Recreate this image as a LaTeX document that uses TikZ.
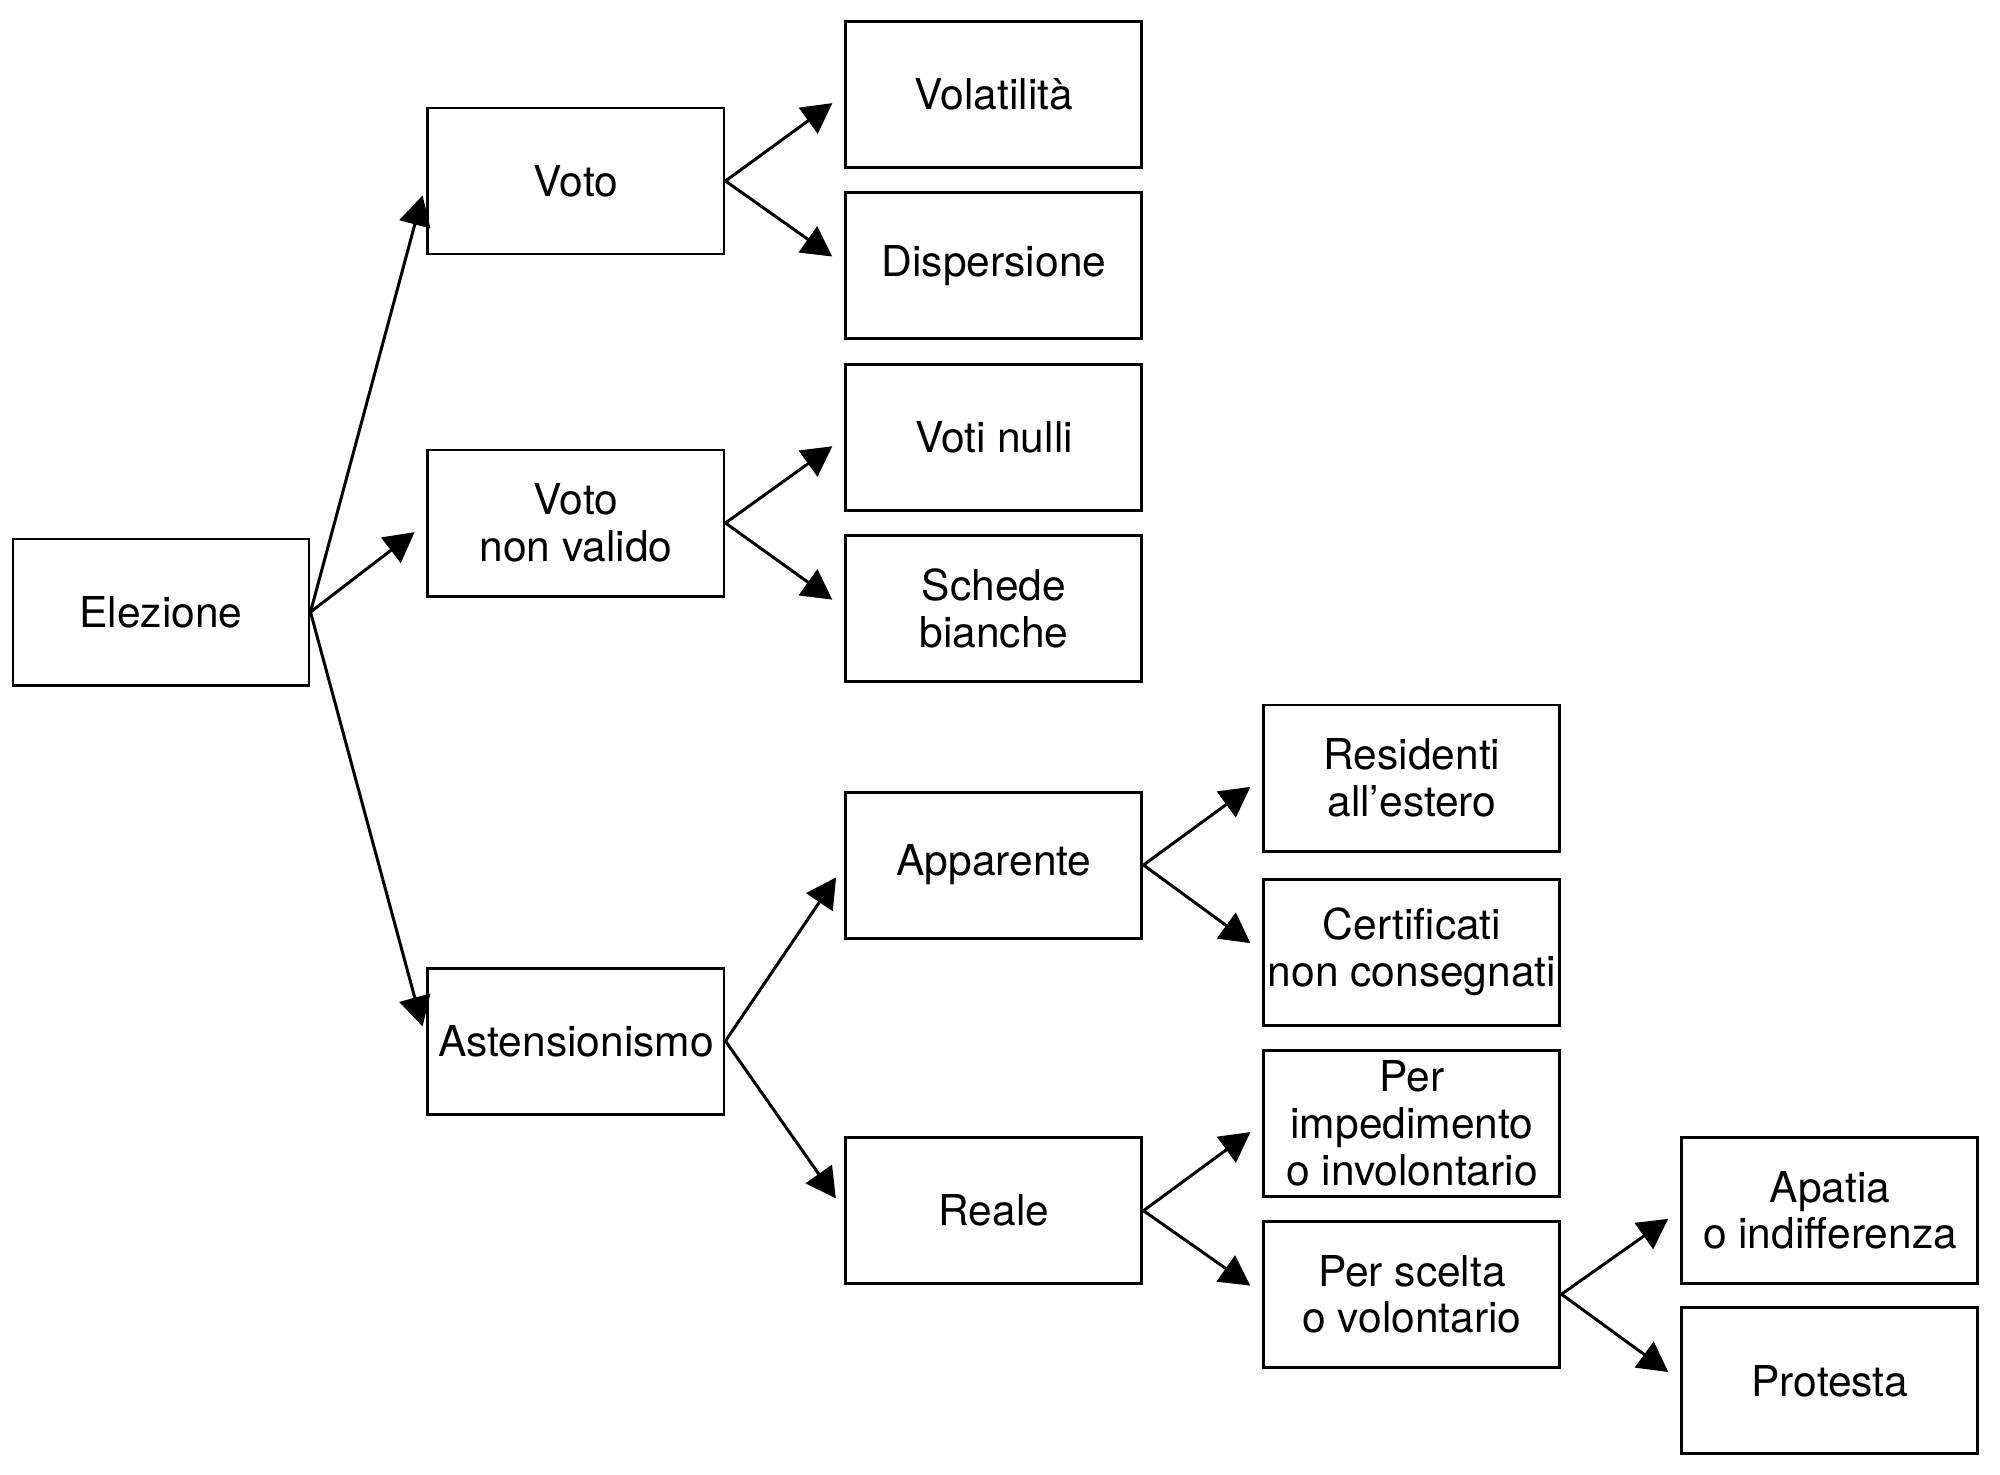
\documentclass[tikz,border=0pt]{standalone}
\usepackage{fontspec}
\setmainfont{TeX Gyre Heros}
\usetikzlibrary{positioning,arrows.meta}

\tikzstyle{box} = [draw, rectangle, line width=0.85pt, align=center, minimum width=2.96cm, minimum height=1.46cm, inner sep=0pt, font=\fontsize{12.1pt}{13.3pt}\selectfont]
\tikzstyle{arrow} = [draw, line width=0.85pt, -{Triangle[length=8.5pt, width=9pt]}, shorten >=1.5mm]

\begin{document}
\begin{tikzpicture}[node distance=1.19cm]
	\useasboundingbox (0,0) rectangle (20,-14.75);

	\node [box] (elezione) at (1.61,-6.12) {Elezione};
	\node [box, right=1.16cm of elezione, yshift=4.31cm] (voto) {Voto};
	\node [box, right=1.16cm of elezione, yshift=0.89cm] (nonvalido) {Voto\\non valido};
	\node [box, right=1.16cm of elezione, yshift=-4.29cm] (astensionismo) {Astensionismo};

	\node [box, right=of voto, yshift=8.67mm] (volatilita) {Volatilità};
	\node [box, right=of voto, yshift=-8.42mm] (dispersione) {Dispersione};
	\node [box, right=of nonvalido, yshift=8.55mm] (votinulli) {Voti nulli};
	\node [box, right=of nonvalido, yshift=-8.54mm] (schede) {Schede\\bianche};
	\node [box, right=of astensionismo, yshift=17.6mm] (apparente) {Apparente};
	\node [box, right=of astensionismo, yshift=-16.97mm] (reale) {Reale};

	\node [box, right=of apparente, yshift=8.7mm] (residenti) {Residenti\\all’estero};
	\node [box, right=of apparente, yshift=-8.7mm] (certificati) {Certificati\\non consegnati};
	\node [box, right=of reale, yshift=8.75mm] (impedimento) {Per\\impedimento\\o involontario};
	\node [box, right=of reale, yshift=-8.35mm] (scelta) {Per scelta\\o volontario};

	\node [box, right=of scelta, yshift=8.4mm] (apatia) {Apatia\\o indifferenza};
	\node [box, right=of scelta, yshift=-8.67mm] (protesta) {Protesta};

	% Elezione
	\draw [arrow] (elezione.east) to (voto.west);
	\draw [arrow] (elezione.east) to (nonvalido.west);
	\draw [arrow] (elezione.east) to (astensionismo.west);

	% Voto
	\draw [arrow] (voto.east) to (volatilita.west);
	\draw [arrow] (voto.east) to (dispersione.west);
	\draw [arrow] (nonvalido.east) to (votinulli.west);
	\draw [arrow] (nonvalido.east) to (schede.west);

	% Astensionismo
	\draw [arrow] (astensionismo.east) to (apparente.west);
	\draw [arrow] (astensionismo.east) to (reale.west);
	\draw [arrow] (apparente.east) to (residenti.west);
	\draw [arrow] (apparente.east) to (certificati.west);
	\draw [arrow] (reale.east) to (impedimento.west);
	\draw [arrow] (reale.east) to (scelta.west);
	\draw [arrow] (scelta.east) to (apatia.west);
	\draw [arrow] (scelta.east) to (protesta.west);
\end{tikzpicture}
\end{document}
